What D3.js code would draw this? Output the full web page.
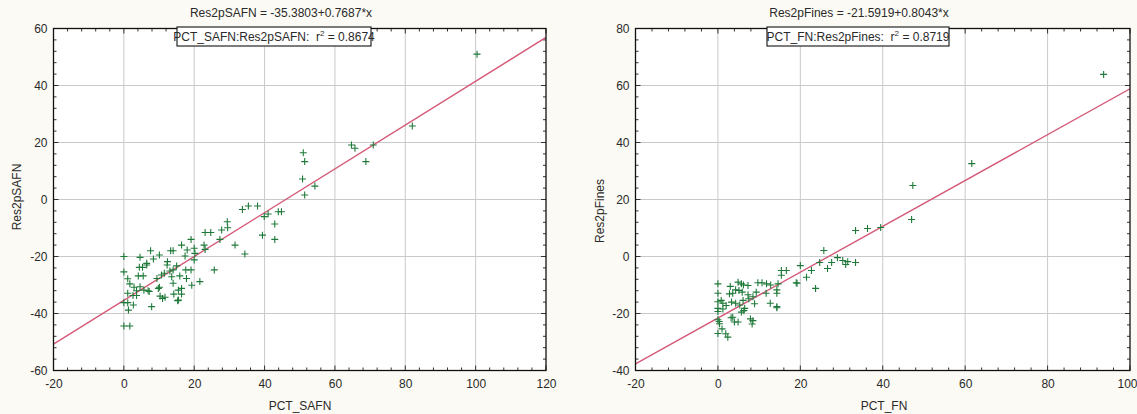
<!DOCTYPE html>
<html>
<head>
<meta charset="utf-8">
<script src="https://cdn.jsdelivr.net/npm/d3@7"></script>
<style>
  html, body { margin: 0; padding: 0; background: #fcfaf4; }
  svg { display: block; }
  text { font-family: "Liberation Sans", Arial, sans-serif; fill: #2a2a2a; }
</style>
</head>
<body>
<svg id="chart" width="1137" height="414"></svg>
<script>
// ---- Panel 1: PCT_SAFN vs Res2pSAFN ----
const safnX = [0,0,1.1,1.7,1.1,2.9,0,1.1,1.3,2.7,0,1.7,2.6,3.6,4.6,4.4,5.3,4.1,5.5,5.7,7.2,7.9,6.5,7.6,8.4,10.1,9.4,10.1,10.7,12.3,13.3,14,13.1,13.6,10.3,11,14,14.2,15.5,16.4,15.5,15,15.9,16.4,17.4,18,17.6,17.8,19.1,19.1,19.3,20,20,23.1,24.7,23.1,22.8,21.6,25.7,27.8,29.5,29.4,27.3,31.6,33.7,35.4,38,34.4,39.4,39.9,41,42.9,42.9,43.9,44.8,51,51.4,50.8,54.3,51.4,64.7,65.7,68.8,70.9,82,100.4,
  12.4,11.5,4.6,6.9,3.6,9.8,11.7,14,15.3,16.4,20.2,6.5];
const safnY = [-20,-25.4,-27.8,-29.6,-32.9,-30.8,-36.2,-36.2,-38.8,-37,-44.4,-44.4,-33.7,-33.7,-20.3,-23.8,-23.8,-26.8,-26.8,-31.8,-32.3,-37.6,-23,-18,-20.9,-19.5,-27.7,-30.8,-26.5,-23,-18,-18,-25.1,-27.1,-33.9,-34.7,-29.4,-33.2,-31.8,-33.2,-35.3,-23.3,-26.8,-16,-19.8,-17.7,-24.7,-27.7,-14,-24.7,-30.1,-17.1,-21.2,-11.6,-11.6,-17.5,-16,-28.8,-24.7,-10.7,-9.9,-7.8,-14,-16,-3.5,-2.3,-2.3,-19.1,-12.5,-6,-5.1,-8.6,-14,-4.3,-4.3,16.4,13.3,7.2,4.7,1.6,19.1,18,13.3,19.1,25.8,51,
  -21.8,-25.9,-30.6,-32,-32,-31.2,-34.3,-24.7,-35.5,-31.2,-18.9,-22.4];
const safnFit = { intercept: -35.3803, slope: 0.7687, r2: "0.8674" };
const safnXTicks = [-20, 0, 20, 40, 60, 80, 100, 120];
const safnYTicks = [-60, -40, -20, 0, 20, 40, 60];

// ---- Panel 2: PCT_FN vs Res2pFines ----
const finesX = [0,0,0,1.2,0,0,0,0.3,0,1,1.9,2.4,1.2,2,0.8,3,2.8,3.6,4.3,4.9,5.7,6.2,7.3,5.1,5.9,3.3,4.3,6.1,7.5,5.3,6.5,3.6,4,4.9,7.3,8.5,9.3,8.9,7.9,8.5,8.3,5.7,9.7,10.7,11.8,12.8,11.7,14.6,14.3,14.3,12.7,14.3,15.4,16.6,15.4,19,20,19.2,21.5,22.7,23.7,24.7,25.7,26.6,27.6,29,30.3,31,31.5,33.4,33.4,36.3,39.5,47.3,47,61.6,93.6,
  0.4,6.3,3.2,14.3];
const finesY = [-9.6,-12.9,-15.9,-16.4,-18.2,-19.3,-22.2,-22.8,-27,-25.4,-27.1,-28.3,-18.4,-17.2,-15.4,-10.5,-13.1,-12.9,-11.7,-9,-9.6,-10,-10.2,-11.9,-12.5,-16,-16.4,-15.4,-14.8,-17,-18.2,-21.3,-23,-23,-13.4,-14.1,-12.5,-16.6,-21.9,-22.5,-23.7,-19.5,-9.2,-9.2,-9.6,-10,-12.9,-9.6,-11.7,-12.9,-16.4,-17.6,-4.9,-4.9,-6.6,-9.2,-3.2,-9.4,-7.3,-4.9,-11.2,-2.1,2.1,-4.2,-2.1,-0.4,-1.4,-2.8,-1.8,-2.1,9.1,9.8,10.2,24.9,13,32.6,63.9,
  -23.6,-19,-21.5,-18];
const finesFit = { intercept: -21.5919, slope: 0.8043, r2: "0.8719" };
const finesXTicks = [-20, 0, 20, 40, 60, 80, 100];
const finesYTicks = [-40, -20, 0, 20, 40, 60, 80];

const svg = d3.select("#chart");
const plainNum = d => String(d); // hyphen-minus labels

function drawPanel(p) {
  const x = d3.scaleLinear().domain(p.xDomain).range(p.xRange);
  const y = d3.scaleLinear().domain(p.yDomain).range(p.yRange);
  const [x0, x1] = p.xRange;
  const [y0, y1] = p.yRange; // y0 bottom, y1 top
  const g = svg.append("g");
  const clipId = "clip-" + p.id;

  g.append("clipPath").attr("id", clipId)
    .append("rect").attr("x", x0).attr("y", y1).attr("width", x1 - x0).attr("height", y0 - y1);

  // plot background
  g.append("rect").attr("x", x0).attr("y", y1).attr("width", x1 - x0).attr("height", y0 - y1)
    .attr("fill", "#ffffff");

  // major grid
  g.append("g").selectAll("line").data(p.xTicks.slice(1, -1)).join("line")
    .attr("x1", d => x(d)).attr("x2", d => x(d)).attr("y1", y0).attr("y2", y1)
    .attr("stroke", "#c9c9c9").attr("stroke-width", 1);
  g.append("g").selectAll("line").data(p.yTicks.slice(1, -1)).join("line")
    .attr("y1", d => y(d)).attr("y2", d => y(d)).attr("x1", x0).attr("x2", x1)
    .attr("stroke", "#c9c9c9").attr("stroke-width", 1);

  // inward tick marks on all four sides (minor every 4 units)
  const xMinor = d3.range(p.xDomain[0], p.xDomain[1] + 0.001, 4);
  const yMinor = d3.range(p.yDomain[0], p.yDomain[1] + 0.001, 4);
  const tk = g.append("g").attr("stroke", "#333").attr("stroke-width", 1);
  xMinor.forEach(v => {
    const len = (v % 20 === 0) ? 5 : 3;
    tk.append("line").attr("x1", x(v)).attr("x2", x(v)).attr("y1", y0).attr("y2", y0 - len);
    tk.append("line").attr("x1", x(v)).attr("x2", x(v)).attr("y1", y1).attr("y2", y1 + len);
  });
  yMinor.forEach(v => {
    const len = (v % 20 === 0) ? 5 : 3;
    tk.append("line").attr("y1", y(v)).attr("y2", y(v)).attr("x1", x0).attr("x2", x0 + len);
    tk.append("line").attr("y1", y(v)).attr("y2", y(v)).attr("x1", x1).attr("x2", x1 - len);
  });

  // tick labels via d3 axes
  const ax = g.append("g").attr("transform", `translate(0,${y0})`)
    .call(d3.axisBottom(x).tickValues(p.xTicks).tickSize(0).tickPadding(9).tickFormat(plainNum));
  ax.select(".domain").remove();
  ax.selectAll("text").attr("font-size", 12).attr("fill", "#333")
    .style("font-family", "'Liberation Sans', Arial, sans-serif");
  // keep the last label inside the page edge
  if (p.lastLabelShift) {
    ax.selectAll(".tick").filter(d => d === p.xTicks[p.xTicks.length - 1])
      .select("text").attr("dx", p.lastLabelShift);
  }
  const ay = g.append("g").attr("transform", `translate(${x0},0)`)
    .call(d3.axisLeft(y).tickValues(p.yTicks).tickSize(0).tickPadding(6).tickFormat(plainNum));
  ay.select(".domain").remove();
  ay.selectAll("text").attr("font-size", 12).attr("fill", "#333")
    .style("font-family", "'Liberation Sans', Arial, sans-serif");

  // regression line
  const fx = v => p.fit.intercept + p.fit.slope * v;
  g.append("line").attr("clip-path", `url(#${clipId})`)
    .attr("x1", x(p.xDomain[0])).attr("y1", y(fx(p.xDomain[0])))
    .attr("x2", x(p.xDomain[1])).attr("y2", y(fx(p.xDomain[1])))
    .attr("stroke", "#d45a78").attr("stroke-width", 1.4);

  // points as "+" markers
  const pts = p.xs.map((v, i) => [v, p.ys[i]]);
  g.append("g").attr("clip-path", `url(#${clipId})`)
    .selectAll("path").data(pts).join("path")
    .attr("transform", d => `translate(${x(d[0])},${y(d[1])})`)
    .attr("d", "M-3.5,0H3.5M0,-3.5V3.5")
    .attr("stroke", "#1f7a3a").attr("stroke-width", 1.1).attr("fill", "none");

  // frame
  g.append("rect").attr("x", x0).attr("y", y1).attr("width", x1 - x0).attr("height", y0 - y1)
    .attr("fill", "none").attr("stroke", "#111").attr("stroke-width", 1.3);

  // title
  g.append("text").attr("x", p.titleX).attr("y", 17).attr("text-anchor", "middle")
    .attr("font-size", 12).text(p.title);

  // legend box
  const lg = g.append("g");
  lg.append("rect").attr("x", p.legend.x).attr("y", 27).attr("width", p.legend.w).attr("height", 19)
    .attr("fill", "#ffffff").attr("stroke", "#111").attr("stroke-width", 1.1);
  const lt = lg.append("text").attr("x", p.legend.x + p.legend.w / 2).attr("y", 41)
    .attr("text-anchor", "middle").attr("font-size", 12).attr("xml:space", "preserve");
  lt.append("tspan").text(p.legendText + "  r");
  lt.append("tspan").attr("font-size", 8).attr("dy", -5).text("2");
  lt.append("tspan").attr("dy", 5).text(" = " + p.fit.r2);

  // axis titles
  g.append("text").attr("x", p.xLabelX).attr("y", 410).attr("text-anchor", "middle")
    .attr("font-size", 12).text(p.xLabel);
  g.append("text").attr("transform", `translate(${p.yLabelX},${p.yLabelY}) rotate(-90)`)
    .attr("text-anchor", "middle").attr("font-size", 12).text(p.yLabel);
}

drawPanel({
  id: "safn", xs: safnX, ys: safnY, fit: safnFit,
  xDomain: [-20, 120], xRange: [53.5, 546], yDomain: [-60, 60], yRange: [370.5, 28.5],
  xTicks: safnXTicks, yTicks: safnYTicks,
  title: "Res2pSAFN = -35.3803+0.7687*x", titleX: 281,
  legend: { x: 177, w: 194 }, legendText: "PCT_SAFN:Res2pSAFN:",
  xLabel: "PCT_SAFN", xLabelX: 300, yLabel: "Res2pSAFN", yLabelX: 21, yLabelY: 197
});

drawPanel({
  id: "fines", xs: finesX, ys: finesY, fit: finesFit,
  xDomain: [-20, 100], xRange: [635.5, 1130], yDomain: [-40, 80], yRange: [370.5, 28.5],
  xTicks: finesXTicks, yTicks: finesYTicks, lastLabelShift: -3,
  title: "Res2pFines = -21.5919+0.8043*x", titleX: 859,
  legend: { x: 767, w: 182 }, legendText: "PCT_FN:Res2pFines:",
  xLabel: "PCT_FN", xLabelX: 884, yLabel: "Res2pFines", yLabelX: 604, yLabelY: 211
});
</script>
</body>
</html>
